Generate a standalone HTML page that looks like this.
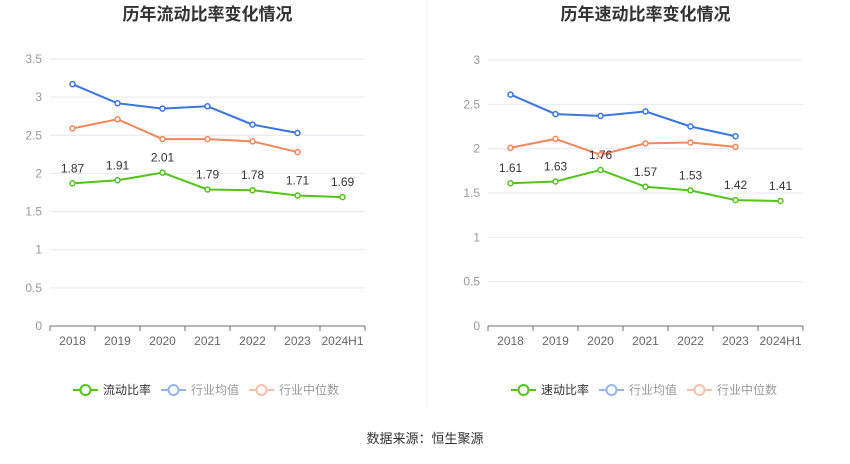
<!DOCTYPE html>
<html><head><meta charset="utf-8"><style>
body{margin:0;background:#fff;width:850px;height:459px;overflow:hidden;font-family:"Liberation Sans","Noto Sans CJK SC",sans-serif;}
svg text{font-family:"Liberation Sans","Noto Sans CJK SC",sans-serif;}
</style></head><body>
<svg id="s" width="850" height="459">
<line x1="427" y1="0" x2="427" y2="408" stroke="#eee"/>
<text x="425" y="443" font-size="13" fill="#333" text-anchor="middle">数据来源：恒生聚源</text>
</svg>
<script>
const categories=["2018","2019","2020","2021","2022","2023","2024H1"];
const leftMain=[1.87,1.91,2.01,1.79,1.78,1.71,1.69];
const leftAvg=[3.17,2.92,2.85,2.88,2.64,2.53];
const leftMed=[2.59,2.71,2.45,2.45,2.42,2.28];
const leftTicks=["0","0.5","1","1.5","2","2.5","3","3.5"];
const rightMain=[1.61,1.63,1.76,1.57,1.53,1.42,1.41];
const rightAvg=[2.61,2.39,2.37,2.42,2.25,2.14];
const rightMed=[2.01,2.11,1.93,2.06,2.07,2.02];
const rightTicks=["0","0.5","1","1.5","2","2.5","3"];
const svg=document.getElementById('s');
const NS='http://www.w3.org/2000/svg';
function mk(t,a,p){const e=document.createElementNS(NS,t);for(const k in a)e.setAttribute(k,a[k]);(p||svg).appendChild(e);return e;}
function chart(o){
  const g=mk('g',{});
  
  
  const x0=o.x0,x1=o.x1,y0=326,yTop=o.yTop,max=o.max;
  const bw=(x1-x0)/categories.length;
  const X=i=>x0+bw*(i+0.5);
  const Y=v=>y0-(y0-yTop)*v/max;
  const t=mk('text',{x:(x0+x1)/2,y:20,'font-size':17,'font-weight':'bold',fill:'#333','text-anchor':'middle'},g);
  t.textContent=o.title;
  
  
  o.ticks.forEach(s=>{const v=parseFloat(s),y=Y(v);
    if(v>0){const l=mk('line',{x1:x0,x2:x1,y1:y,y2:y,stroke:'#e6e9f0'},g);
      
      }
    const tx=mk('text',{x:x0-8,y:y+4,'font-size':12,fill:'#999','text-anchor':'end'},g);tx.textContent=s;
    
    });
  const ax=mk('line',{x1:x0,x2:x1,y1:y0,y2:y0,stroke:'#6e7079'},g);
  
  
  categories.forEach((c,i)=>{
    mk('line',{x1:x0+bw*i,x2:x0+bw*i,y1:y0,y2:y0+5,stroke:'#6e7079'},g);
    const tx=mk('text',{x:X(i),y:345,'font-size':12,fill:'#666','text-anchor':'middle'},g);tx.textContent=c;
    
    });
  mk('line',{x1:x1,x2:x1,y1:y0,y2:y0+5,stroke:'#6e7079'},g);
  function series(d,col,name,labels){
    const pl=mk('polyline',{points:d.map((v,i)=>X(i)+','+Y(v)).join(' '),fill:'none',stroke:col,'stroke-width':2},g);
    
    
    d.forEach((v,i)=>{const c=mk('circle',{cx:X(i),cy:Y(v),r:2.5,fill:'#fff',stroke:col,'stroke-width':1.5},g);
      
      
      if(labels){const tx=mk('text',{x:X(i),y:Y(v)-11,'font-size':12,fill:'#333','text-anchor':'middle'},g);tx.textContent=v.toFixed(2);
        
        }});
  }
  series(o.avg,'#3a75e0','industry-avg',false);
  series(o.med,'#f3875a','industry-median',false);
  series(o.main,'#52c41a','main',true);
  const leg=[[o.mainName,'#52c41a','#333'],['行业均值','#93b5f0','#999'],['行业中位数','#f8c0a6','#999']];
  let lx=o.legX;
  leg.forEach(([n,c,tc])=>{
    const lg=mk('g',{},g);
    
    
    mk('line',{x1:lx,x2:lx+25,y1:390,y2:390,stroke:c,'stroke-width':2},lg);
    mk('circle',{cx:lx+12.5,cy:390,r:5,fill:'#fff',stroke:c,'stroke-width':2},lg);
    const tx=mk('text',{x:lx+30,y:394,'font-size':12,fill:tc},lg);tx.textContent=n;
    lx+=30+n.length*12+10;
  });
}
chart({id:'current-ratio-chart',title:'历年流动比率变化情况',x0:50,x1:365,yTop:59,max:3.5,ticks:leftTicks,main:leftMain,avg:leftAvg,med:leftMed,mainName:'流动比率',legX:73});
chart({id:'quick-ratio-chart',title:'历年速动比率变化情况',x0:488,x1:803,yTop:60,max:3,ticks:rightTicks,main:rightMain,avg:rightAvg,med:rightMed,mainName:'速动比率',legX:511});
</script>
</body></html>
